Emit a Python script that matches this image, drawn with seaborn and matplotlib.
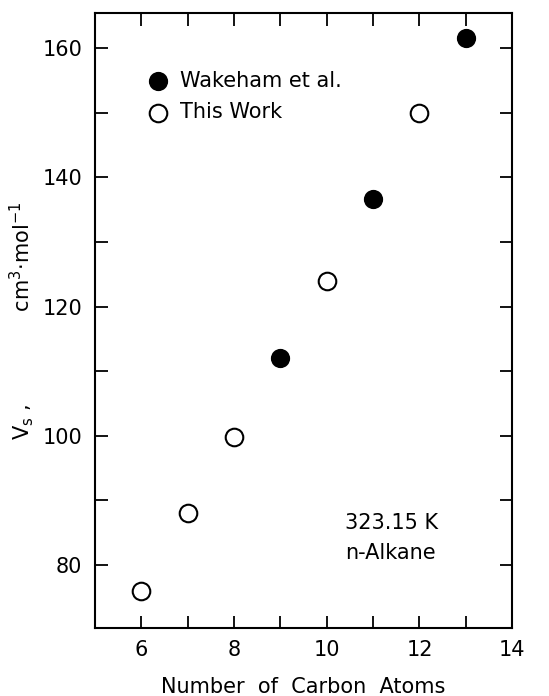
import matplotlib
matplotlib.use("Agg")
import matplotlib.pyplot as plt
from matplotlib.ticker import MultipleLocator
import seaborn as sns
import pandas as pd

# Saturated molar volumes of n-alkanes at 323.15 K
wakeham_carbons = [9, 11, 13]
wakeham_volume = [112.0, 136.7, 161.5]
this_work_carbons = [6, 7, 8, 10, 12]
this_work_volume = [76.0, 88.0, 99.8, 124.0, 150.0]

sns.set_theme(style="ticks")
plt.rcParams["font.family"] = ["DejaVu Sans"]
plt.rcParams["text.color"] = "black"
plt.rcParams["axes.labelcolor"] = "black"

wake = pd.DataFrame({"n": wakeham_carbons, "V": wakeham_volume})
work = pd.DataFrame({"n": this_work_carbons, "V": this_work_volume})

fig = plt.figure(figsize=(5.49, 6.96), dpi=100)
ax = fig.add_axes([0.173, 0.098, 0.760, 0.883])

sns.scatterplot(data=wake, x="n", y="V", ax=ax, marker="o", s=160,
                color="black", edgecolor="black", linewidth=1.2,
                label="Wakeham et al.", zorder=3)
sns.scatterplot(data=work, x="n", y="V", ax=ax, marker="o", s=160,
                facecolor="white", edgecolor="black", linewidth=1.5,
                label="This Work", zorder=3)

ax.set_xlim(5, 14)
ax.set_ylim(70.3, 165.4)
ax.xaxis.set_major_locator(MultipleLocator(2))
ax.xaxis.set_minor_locator(MultipleLocator(1))
ax.yaxis.set_major_locator(MultipleLocator(20))
ax.yaxis.set_minor_locator(MultipleLocator(10))
ax.tick_params(which="both", direction="in", top=True, right=True,
               width=1.3, colors="black", labelcolor="black")
ax.tick_params(which="major", length=9, labelsize=15, pad=9)
ax.tick_params(which="minor", length=9)
for sp in ax.spines.values():
    sp.set_linewidth(1.5)
    sp.set_color("black")

ax.set_xlabel("Number  of  Carbon  Atoms", fontsize=15, labelpad=12,
              color="black")
ax.set_ylabel(r"V$_\mathregular{s}$ ,              cm$^\mathregular{3}$$\cdot$mol$^\mathregular{-1}$",
              fontsize=15, labelpad=5, color="black")

leg = ax.legend(loc="upper left", bbox_to_anchor=(0.08, 0.92), frameon=False,
                fontsize=15, handletextpad=0.1, labelspacing=0.55,
                borderaxespad=0, markerscale=1.0)
for t in leg.get_texts():
    t.set_color("black")

ax.text(0.60, 0.146, "323.15 K\nn-Alkane", transform=ax.transAxes,
        fontsize=15, ha="left", va="center", linespacing=1.6, color="black")

fig.savefig("out.png", dpi=100)
